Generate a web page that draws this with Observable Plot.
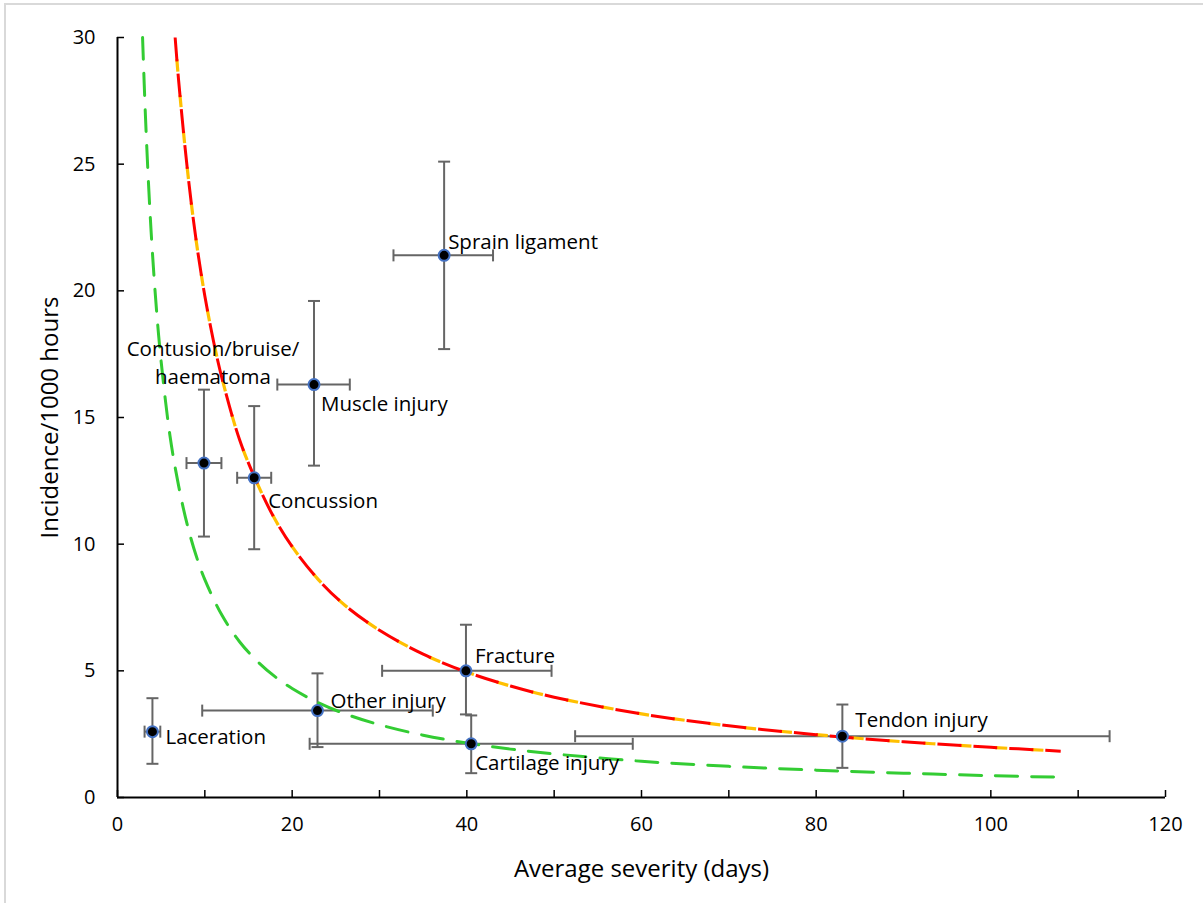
<!DOCTYPE html>
<html>
<head>
<meta charset="utf-8">
<script src="https://cdn.jsdelivr.net/npm/d3@7"></script>
<script src="https://cdn.jsdelivr.net/npm/@observablehq/plot@0.6"></script>
<style>
  html, body { margin: 0; padding: 0; background: #fff; overflow: hidden; }
  #frame { position: absolute; left: 4px; top: 3px; width: 1400px; height: 1100px; border: 2px solid #d9d9d9; box-sizing: border-box; }
  #chart { position: absolute; left: 0; top: 0; }
</style>
</head>
<body>
<div id="frame"></div>
<div id="chart"></div>
<script>
// ---- Data ----
const injuries = ["Laceration", "Other injury", "Fracture", "Cartilage injury", "Tendon injury", "Sprain ligament", "Muscle injury", "Contusion/bruise/\nhaematoma", "Concussion"];
const severity = [4.0, 22.9, 39.9, 40.5, 83.0, 37.4, 22.5, 9.9, 15.65];
const severityLow = [3.1, 9.7, 30.3, 22.0, 52.4, 31.6, 18.3, 7.9, 13.7];
const severityHigh = [4.9, 36.1, 49.7, 59.0, 113.6, 43.0, 26.6, 11.9, 17.6];
const incidence = [2.6, 3.43, 5.0, 2.12, 2.42, 21.4, 16.3, 13.2, 12.62];
const incidenceLow = [1.33, 1.99, 3.28, 0.96, 1.17, 17.7, 13.1, 10.3, 9.8];
const incidenceHigh = [3.92, 4.9, 6.82, 3.24, 3.67, 25.1, 19.6, 16.1, 15.45];

// Upper fitted curve (orange/red)
const upperCurveX = [6.6, 7, 8, 9, 10, 11, 12, 14, 16, 18, 20, 23, 26, 30, 35, 40, 45, 50, 60, 70, 80, 90, 100, 108];
const upperCurveY = [30, 28.3, 24.8, 22, 19.8, 18, 16.5, 14.1, 12.4, 11, 9.9, 8.6, 7.6, 6.6, 5.66, 4.95, 4.4, 3.96, 3.3, 2.83, 2.48, 2.2, 1.98, 1.83];
// Lower fitted curve (green)
const lowerCurveX = [2.87, 3.2, 3.6, 4, 4.5, 5, 6, 7, 8, 9, 10, 12, 14, 16, 18, 20, 23, 26, 30, 35, 40, 45, 50, 60, 70, 80, 90, 100, 108];
const lowerCurveY = [30, 26.9, 23.9, 21.5, 19.1, 17.2, 14.3, 12.3, 10.75, 9.55, 8.6, 7.17, 6.14, 5.38, 4.78, 4.3, 3.74, 3.31, 2.87, 2.46, 2.15, 1.91, 1.72, 1.43, 1.23, 1.08, 0.96, 0.86, 0.8];

const xTicksMinor = [0, 10, 20, 30, 40, 50, 60, 70, 80, 90, 100, 110, 120];
const xTickLabels = [0, 20, 40, 60, 80, 100, 120];
const yTicks = [0, 5, 10, 15, 20, 25, 30];
const xTitle = "Average severity (days)";
const yTitle = "Incidence/1000 hours";

// ---- Label placement (styling) ----
const labelPlacement = {
  "Laceration": {dx: 13, dy: 3, anchor: "start"},
  "Other injury": {dx: 13, dy: -12, anchor: "start"},
  "Fracture": {dx: 9, dy: -17, anchor: "start"},
  "Cartilage injury": {dx: 4, dy: 17, anchor: "start"},
  "Tendon injury": {dx: 13, dy: -18, anchor: "start"},
  "Sprain ligament": {dx: 4, dy: -15, anchor: "start"},
  "Muscle injury": {dx: 7, dy: 17, anchor: "start"},
  "Contusion/bruise/\nhaematoma": {dx: 9, dy: -102, anchor: "middle"},
  "Concussion": {dx: 14, dy: 21, anchor: "start"}
};

// ---- Build tables ----
const points = injuries.map((name, i) => ({
  name, x: severity[i], y: incidence[i],
  xlo: severityLow[i], xhi: severityHigh[i],
  ylo: incidenceLow[i], yhi: incidenceHigh[i]
}));
const upper = upperCurveX.map((x, i) => ({x, y: upperCurveY[i]}));
const lower = lowerCurveX.map((x, i) => ({x, y: lowerCurveY[i]}));

const capHalf = 6;
const vCap = {draw(ctx) { ctx.moveTo(0, -capHalf); ctx.lineTo(0, capHalf); }};
const hCap = {draw(ctx) { ctx.moveTo(-capHalf, 0); ctx.lineTo(capHalf, 0); }};

const errColor = "#656565";
const font = "'Open Sans', sans-serif";
const labelSize = 20.5;

const chart = Plot.plot({
  width: 1203,
  height: 903,
  marginLeft: 117,
  marginRight: 38,
  marginTop: 37,
  marginBottom: 106,
  style: {fontFamily: font, background: "transparent", overflow: "visible"},
  x: {domain: [0, 120]},
  y: {domain: [0, 30]},
  marks: [
    // axis ticks (inward)
    Plot.axisX(xTicksMinor, {tickSize: -7, tickFormat: () => "", stroke: "#000", strokeWidth: 1.5, label: null}),
    Plot.axisY(yTicks, {tickSize: -7, tickFormat: () => "", stroke: "#000", strokeWidth: 1.5, label: null}),
    // tick labels
    Plot.axisX(xTickLabels, {tickSize: 0, tickPadding: 19, fontSize: 20, fill: "#000", label: null}),
    Plot.axisY(yTicks, {tickSize: 0, tickPadding: 22, fontSize: 20, fill: "#000", label: null}),
    // axis titles
    Plot.text([xTitle], {frameAnchor: "bottom", text: d => d, dy: 79, fontSize: 24, fill: "#000"}),
    Plot.text([yTitle], {frameAnchor: "left", text: d => d, rotate: -90, textAnchor: "middle", lineAnchor: "middle", dx: -67, dy: 0, fontSize: 24, fill: "#000"}),
    // axis lines
    Plot.ruleY([0], {stroke: "#000", strokeWidth: 2}),
    Plot.ruleX([0], {stroke: "#000", strokeWidth: 2}),
    // error bars
    Plot.link(points, {x1: "xlo", x2: "xhi", y1: "y", y2: "y", stroke: errColor, strokeWidth: 2}),
    Plot.link(points, {x1: "x", x2: "x", y1: "ylo", y2: "yhi", stroke: errColor, strokeWidth: 2}),
    Plot.dot(points, {x: "xlo", y: "y", symbol: vCap, stroke: errColor, strokeWidth: 2, fill: "none"}),
    Plot.dot(points, {x: "xhi", y: "y", symbol: vCap, stroke: errColor, strokeWidth: 2, fill: "none"}),
    Plot.dot(points, {x: "x", y: "ylo", symbol: hCap, stroke: errColor, strokeWidth: 2, fill: "none"}),
    Plot.dot(points, {x: "x", y: "yhi", symbol: hCap, stroke: errColor, strokeWidth: 2, fill: "none"}),
    // fitted curves
    Plot.line(lower, {x: "x", y: "y", stroke: "#33cc33", strokeWidth: 3, strokeDasharray: "22,14", curve: "catmull-rom"}),
    Plot.line(upper, {x: "x", y: "y", stroke: "#ffc000", strokeWidth: 3.2, strokeLinecap: "butt", strokeDasharray: "12,24", strokeDashoffset: 14, curve: "catmull-rom"}),
    Plot.line(upper, {x: "x", y: "y", stroke: "#ff0000", strokeWidth: 3, strokeLinecap: "butt", strokeDasharray: "24,12", curve: "catmull-rom"}),
    // markers
    Plot.dot(points, {x: "x", y: "y", r: 5.5, fill: "#000", stroke: "#4472c4", strokeWidth: 2}),
    // labels
    ...points.map(p => {
      const pl = labelPlacement[p.name];
      return Plot.text([p], {x: "x", y: "y", text: "name", dx: pl.dx, dy: pl.dy, textAnchor: pl.anchor, fontSize: labelSize, fill: "#000", lineHeight: 1.37});
    })
  ]
});
document.getElementById("chart").appendChild(chart);
</script>
</body>
</html>
